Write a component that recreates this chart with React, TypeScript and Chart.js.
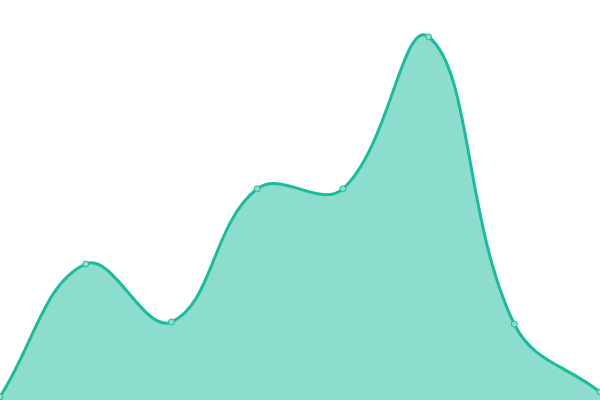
import { useEffect, useRef } from "react";
import { Chart, registerables } from "chart.js";

Chart.register(...registerables);

const labels = ["1", "2", "3", "4", "5", "6", "7", "8"];
const values = [0.8, 34, 19.5, 52.8, 52.8, 90.8, 19, 2];

export default function App() {
  const chartRef = useRef<HTMLCanvasElement>(null);
  const chartInstance = useRef<Chart | null>(null);

  useEffect(() => {
    document.body.style.margin = "0";
    if (!chartRef.current) return;
    const ctx = chartRef.current.getContext("2d");
    if (!ctx) return;

    chartInstance.current = new Chart(ctx, {
      type: "line",
      data: {
        labels,
        datasets: [
          {
            data: values,
            borderColor: "rgba(26, 188, 156, 1)",
            backgroundColor: "rgba(26, 188, 156, 0.5)",
            borderWidth: 3,
            tension: 0.4,
            fill: true,
            pointRadius: 3,
            pointBorderWidth: 1,
            pointBackgroundColor: "rgba(140, 221, 205, 1)",
            pointBorderColor: "rgba(26, 188, 156, 1)",
          },
        ],
      },
      options: {
        animation: false,
        responsive: false,
        layout: { padding: 0, autoPadding: false },
        plugins: {
          legend: { display: false },
          tooltip: { enabled: false },
        },
        scales: {
          x: { display: false },
          y: { display: false, min: 0, max: 100 },
        },
      },
    });

    return () => {
      if (chartInstance.current) {
        chartInstance.current.destroy();
      }
    };
  }, []);

  return (
    <div style={{ width: 600, height: 400 }}>
      <canvas ref={chartRef} width={600} height={400} />
    </div>
  );
}
